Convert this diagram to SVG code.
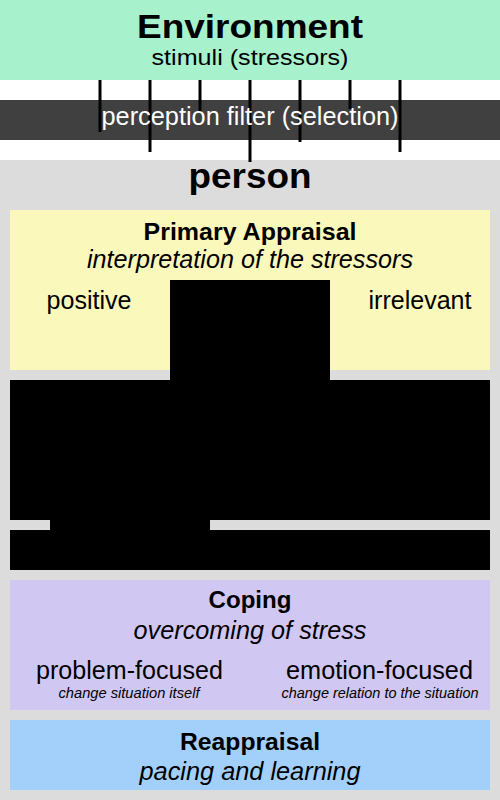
<svg xmlns="http://www.w3.org/2000/svg" width="500" height="800" viewBox="0 0 500 800">
<style>
text{font-family:"Liberation Sans",Arial,sans-serif;fill:#000;text-anchor:middle}
.b{font-weight:bold}
.i{font-style:italic}
.m{font-size:25px}
.s{font-size:14px}
.l{font-size:34px;font-weight:bold}
.ray{stroke:#000;stroke-width:3;fill:none}
.blk{fill:#000}
</style>
<rect x="0" y="0" width="500" height="800" fill="#ffffff"/>
<rect x="0" y="160" width="500" height="640" fill="#dcdcdc"/>
<g id="environment">
<rect x="0" y="0" width="500" height="80" fill="#a7f1cd"/>
<text class="l" x="250" y="38" textLength="226" lengthAdjust="spacingAndGlyphs">Environment</text>
<text x="250" y="65" style="font-size:22px" textLength="197" lengthAdjust="spacingAndGlyphs">stimuli (stressors)</text>
</g>
<g id="filter">
<rect x="0" y="100" width="500" height="40" fill="#404040"/>
</g>
<g id="connectors">
<line class="ray" x1="100" y1="80" x2="100" y2="132"/>
<line class="ray" x1="150" y1="80" x2="150" y2="152"/>
<line class="ray" x1="200" y1="80" x2="200" y2="112"/>
<line class="ray" x1="250" y1="80" x2="250" y2="162"/>
<line class="ray" x1="300" y1="80" x2="300" y2="142"/>
<line class="ray" x1="350" y1="80" x2="350" y2="109"/>
<line class="ray" x1="400" y1="80" x2="400" y2="152"/>
</g>
<g id="filter-label">
<text class="m" x="250" y="125" style="fill:#fff" textLength="297" lengthAdjust="spacingAndGlyphs">perception filter (selection)</text>
</g>
<g id="person">
<text class="l" x="250" y="188" style="font-size:35px" textLength="123" lengthAdjust="spacingAndGlyphs">person</text>
</g>
<g id="primary-appraisal">
<rect x="10" y="210" width="480" height="160" fill="#fbf8bb"/>
<text class="m b" x="250" y="240" style="font-size:24px" textLength="213" lengthAdjust="spacingAndGlyphs">Primary Appraisal</text>
<text class="m i" x="250" y="268" textLength="326" lengthAdjust="spacingAndGlyphs">interpretation of the stressors</text>
<text class="m" x="89" y="309" textLength="85" lengthAdjust="spacingAndGlyphs">positive</text>
<text class="m" x="420" y="309" textLength="103" lengthAdjust="spacingAndGlyphs">irrelevant</text>
</g>
<g id="black-area">
<rect class="blk" x="170" y="280" width="160" height="101"/>
<rect class="blk" x="10" y="380" width="480" height="140"/>
<rect class="blk" x="50" y="519" width="160" height="12"/>
<rect class="blk" x="10" y="530" width="480" height="40"/>
</g>
<g id="coping">
<rect x="10" y="580" width="480" height="130" fill="#d1c7f3"/>
<text class="m b" x="250" y="608" style="font-size:24px" textLength="83" lengthAdjust="spacingAndGlyphs">Coping</text>
<text class="m i" x="250" y="639" textLength="233" lengthAdjust="spacingAndGlyphs">overcoming of stress</text>
<text class="m" x="129.5" y="679" textLength="187" lengthAdjust="spacingAndGlyphs">problem-focused</text>
<text class="m" x="379.5" y="679" textLength="187" lengthAdjust="spacingAndGlyphs">emotion-focused</text>
<text class="s i" x="129" y="698" textLength="141" lengthAdjust="spacingAndGlyphs">change situation itself</text>
<text class="s i" x="380" y="698" textLength="197" lengthAdjust="spacingAndGlyphs">change relation to the situation</text>
</g>
<g id="reappraisal">
<rect x="10" y="720" width="480" height="70" fill="#a3d0fa"/>
<text class="m b" x="250" y="750" style="font-size:24px" textLength="140" lengthAdjust="spacingAndGlyphs">Reappraisal</text>
<text class="m i" x="250" y="780" textLength="221" lengthAdjust="spacingAndGlyphs">pacing and learning</text>
</g>
</svg>
